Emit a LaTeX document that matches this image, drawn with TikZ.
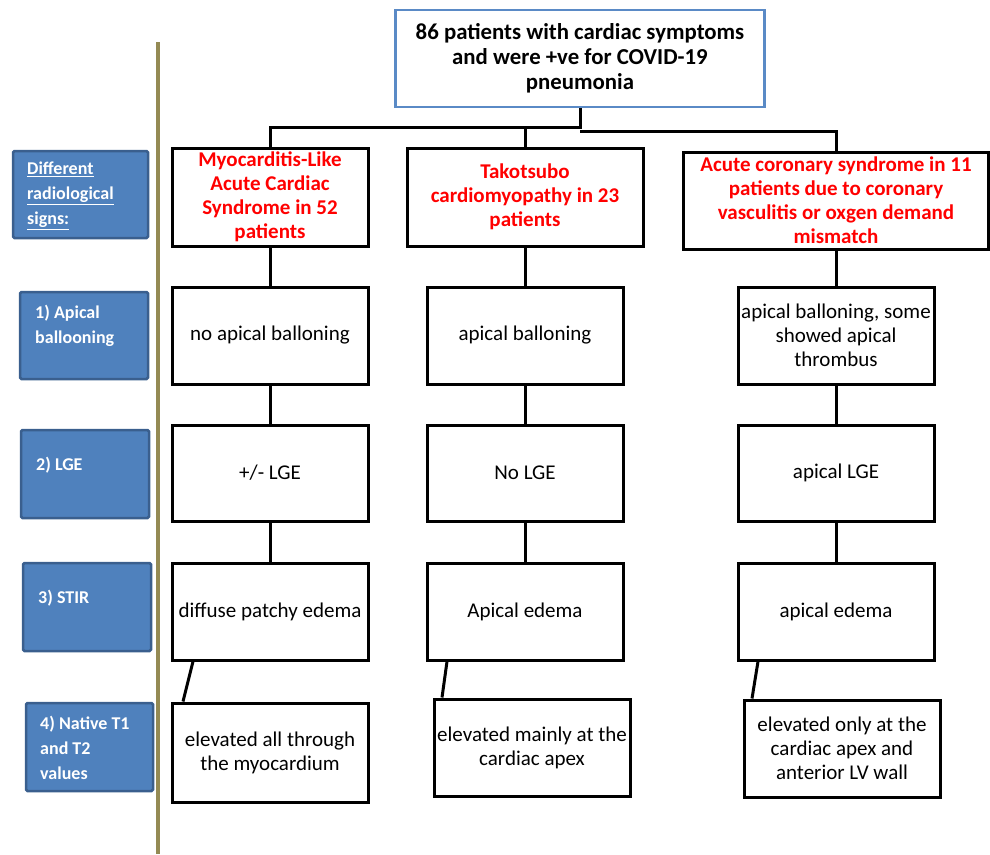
\documentclass[tikz,border=0pt]{standalone}
\usepackage{fontspec}
\setmainfont{Carlito}
\definecolor{bfill}{HTML}{4F81BD}
\definecolor{bdraw}{HTML}{3A5F8E}
\definecolor{topblue}{HTML}{5A8AC6}
\definecolor{olivec}{HTML}{948A54}
\tikzset{
  wbox/.style={draw=black, line width=3pt, fill=white, align=center, inner sep=0pt,
    font=\fontsize{21}{24}\selectfont},
  redbox/.style={wbox, text=red, font=\fontsize{21}{24}\selectfont\bfseries},
  topbox/.style={draw=topblue, line width=2.5pt, fill=white, align=center, inner sep=0pt,
    font=\fontsize{22.8}{25}\selectfont\bfseries},
  bluebox/.style={draw=bdraw, line width=2.5pt, fill=bfill, rounded corners=1.5pt, inner sep=0pt},
  bluetext/.style={anchor=west, align=left, text=white, inner sep=0pt,
    font=\fontsize{18}{25}\selectfont\bfseries},
  conn/.style={draw=black, line width=3pt},
}
\begin{document}
\begin{tikzpicture}[x=1pt,y=-1pt]
\useasboundingbox (0,0) rectangle (990,854);
% olive separator
\draw[draw=olivec, line width=3.5pt] (158,42) -- (158,854);

% top
\node[topbox, minimum width=369, minimum height=97] (top) at (580,58.5)
  {86 patients with cardiac symptoms\\and were +ve for COVID-19\\pneumonia};

% row 1
\node[redbox, minimum width=196, minimum height=98] (A1) at (270,197)
  {Myocarditis-Like\\Acute Cardiac\\Syndrome in 52\\patients};
\node[redbox, minimum width=236, minimum height=98] (B1) at (525,197)
  {Takotsubo\\cardiomyopathy in 23\\patients};
\node[redbox, minimum width=305, minimum height=97] (C1) at (836,200.5)
  {Acute coronary syndrome in 11\\patients due to coronary\\vasculitis or oxgen demand\\mismatch};

% row 2
\node[wbox, minimum width=196, minimum height=97] (A2) at (270,335.5) {no apical balloning};
\node[wbox, minimum width=196, minimum height=97] (B2) at (525,335.5) {apical balloning};
\node[wbox, minimum width=196, minimum height=97] (C2) at (836,335.5) {apical balloning, some\\showed apical\\thrombus};

% row 3
\node[wbox, minimum width=196, minimum height=96] (A3) at (270,473) {+/- LGE};
\node[wbox, minimum width=196, minimum height=96] (B3) at (525,473) {No LGE};
\node[wbox, minimum width=196, minimum height=96] (C3) at (836,473) {apical LGE};

% row 4
\node[wbox, minimum width=196, minimum height=97] (A4) at (270,611.5) {diffuse patchy edema};
\node[wbox, minimum width=196, minimum height=97] (B4) at (525,611.5) {Apical edema};
\node[wbox, minimum width=196, minimum height=97] (C4) at (836,611.5) {apical edema};

% row 5
\node[wbox, minimum width=196, minimum height=99] (A5) at (270,752.5) {elevated all through\\the myocardium};
\node[wbox, minimum width=196, minimum height=97] (B5) at (532,747.5) {elevated mainly at the\\cardiac apex};
\node[wbox, minimum width=196, minimum height=97] (C5) at (842,748.5) {elevated only at the\\cardiac apex and\\anterior LV wall};

% connectors from top
\coordinate (j1) at (580,127);
\coordinate (j2) at (580,131);
\draw[conn] (top.south) -- (j1) -- (A1.north |- j1) -- (A1.north);
\draw[conn] (B1.north |- j1) -- (B1.north);
\draw[conn] (j2) -- (C1.north |- j2) -- (C1.north);

% vertical connectors
\foreach \c in {A,B,C}{
  \draw[conn] (\c1.south) -- (\c2.north);
  \draw[conn] (\c2.south) -- (\c3.north);
  \draw[conn] (\c3.south) -- (\c4.north);
}
% slanted connectors to row 5
\draw[conn] ([xshift=-77pt]A4.south) -- ([xshift=-87pt]A5.north);
\draw[conn] ([xshift=-78pt]B4.south) -- ([xshift=-90pt]B5.north);
\draw[conn] ([xshift=-78pt]C4.south) -- ([xshift=-90pt]C5.north);

% left blue label boxes
\node[bluebox, minimum width=135, minimum height=87] (L0) at (80.5,194.5) {};
\node[bluebox, minimum width=128, minimum height=87] (L1) at (84,335.5) {};
\node[bluebox, minimum width=128, minimum height=88] (L2) at (85,474) {};
\node[bluebox, minimum width=128, minimum height=88] (L3) at (87,607) {};
\node[bluebox, minimum width=127, minimum height=88] (L4) at (89.5,747) {};

\node[bluetext] (T0) at (27,195.5) {\underline{Different}\\\underline{radiological}\\\underline{signs:}};
\node[bluetext] (T1) at (35,326) {1) Apical\\ballooning};
\node[bluetext] (T2) at (36,465) {2) LGE};
\node[bluetext] (T3) at (38,598) {3) STIR};
\node[bluetext] (T4) at (40,748) {4) Native T1\\and T2\\values};
\end{tikzpicture}
\end{document}
